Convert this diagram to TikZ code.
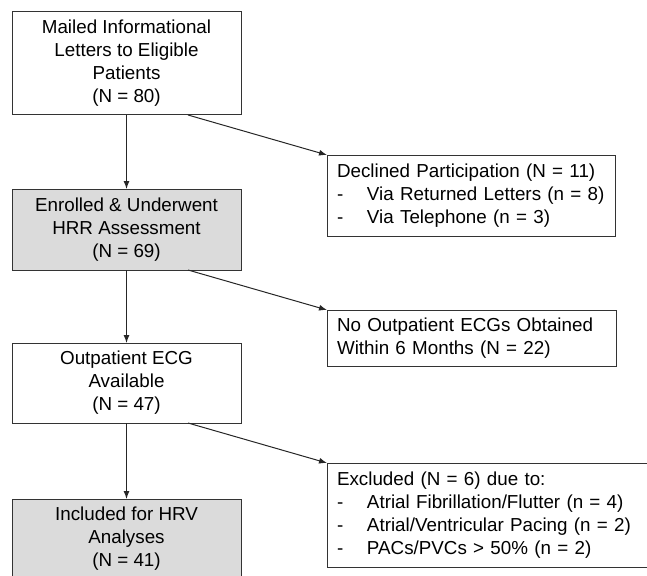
\documentclass[tikz,border=0pt]{standalone}
\usepackage{fontspec}
\setmainfont{Liberation Sans}
\usepackage{tikz}
\usetikzlibrary{arrows.meta}
\usetikzlibrary{calc}

\begin{document}
\begin{tikzpicture}
  [
    x=1pt,y=-1pt,
    every node/.style={font=\fontsize{18.8pt}{23pt}\selectfont,outer sep=0pt},
    box/.style={
      draw=black!80,
      line width=1pt,
      fill=white,
      minimum width=229pt,
      align=center
    },
    grey/.style={box,fill=black!14},
    side/.style={
      draw=black!80,
      line width=1pt,
      fill=white,
      anchor=north west,
      inner xsep=10pt,
      align=left
    },
    flow/.style={-{Latex[length=8pt,width=6pt]},line width=1pt,black!85},
  ]
    \useasboundingbox (0,0) rectangle (647,575);
    \clip (0,0) rectangle (647,575);
    % main column
    \node [box,minimum height=103pt] (mailed) at (126.5,63.5)
      {Mailed Informational\\Letters to Eligible\\Patients\\(N = 80)};
    \node [grey,minimum height=81pt] (enrolled) at (126.5,229.5)
      {Enrolled \& Underwent\\HRR Assessment\\(N = 69)};
    \node [box,minimum height=80pt] (ecg) at (126.5,383)
      {Outpatient ECG\\Available\\(N = 47)};
    \node [grey,minimum height=80pt] (hrv) at (126.5,539)
      {Included for HRV\\Analyses\\(N = 41)};
    % side boxes
    \node [side,text width=268pt,minimum height=81pt] (declined) at (327,155)
      {Declined Participation (N = 11)\\
       \makebox[30pt][l]{-}Via Returned Letters (n = 8)\\
       \makebox[30pt][l]{-}Via Telephone (n = 3)};
    \node [side,text width=269pt,minimum height=56pt] (noecg) at (327,310)
      {No Outpatient ECGs Obtained\\Within 6 Months (N = 22)};
    \node [side,text width=315pt,minimum height=104pt] (excluded) at (327,463)
      {Excluded (N = 6) due to:\\
       \makebox[30pt][l]{-}Atrial Fibrillation/Flutter (n = 4)\\
       \makebox[30pt][l]{-}Atrial/Ventricular Pacing (n = 2)\\
       \makebox[30pt][l]{-}PACs/PVCs > 50\% (n = 2)};
    % arrows down
    \draw [flow] (mailed) -- (enrolled);
    \draw [flow] (enrolled) -- (ecg);
    \draw [flow] (ecg) -- (hrv);
    % arrows to the side
    \draw [flow] ([xshift=-53pt]mailed.south east) -- (declined.north west);
    \draw [flow] ([xshift=-53pt]enrolled.south east) -- (noecg.north west);
    \draw [flow] ([xshift=-53pt]ecg.south east) -- (excluded.north west);
  \end{tikzpicture}
\end{document}
